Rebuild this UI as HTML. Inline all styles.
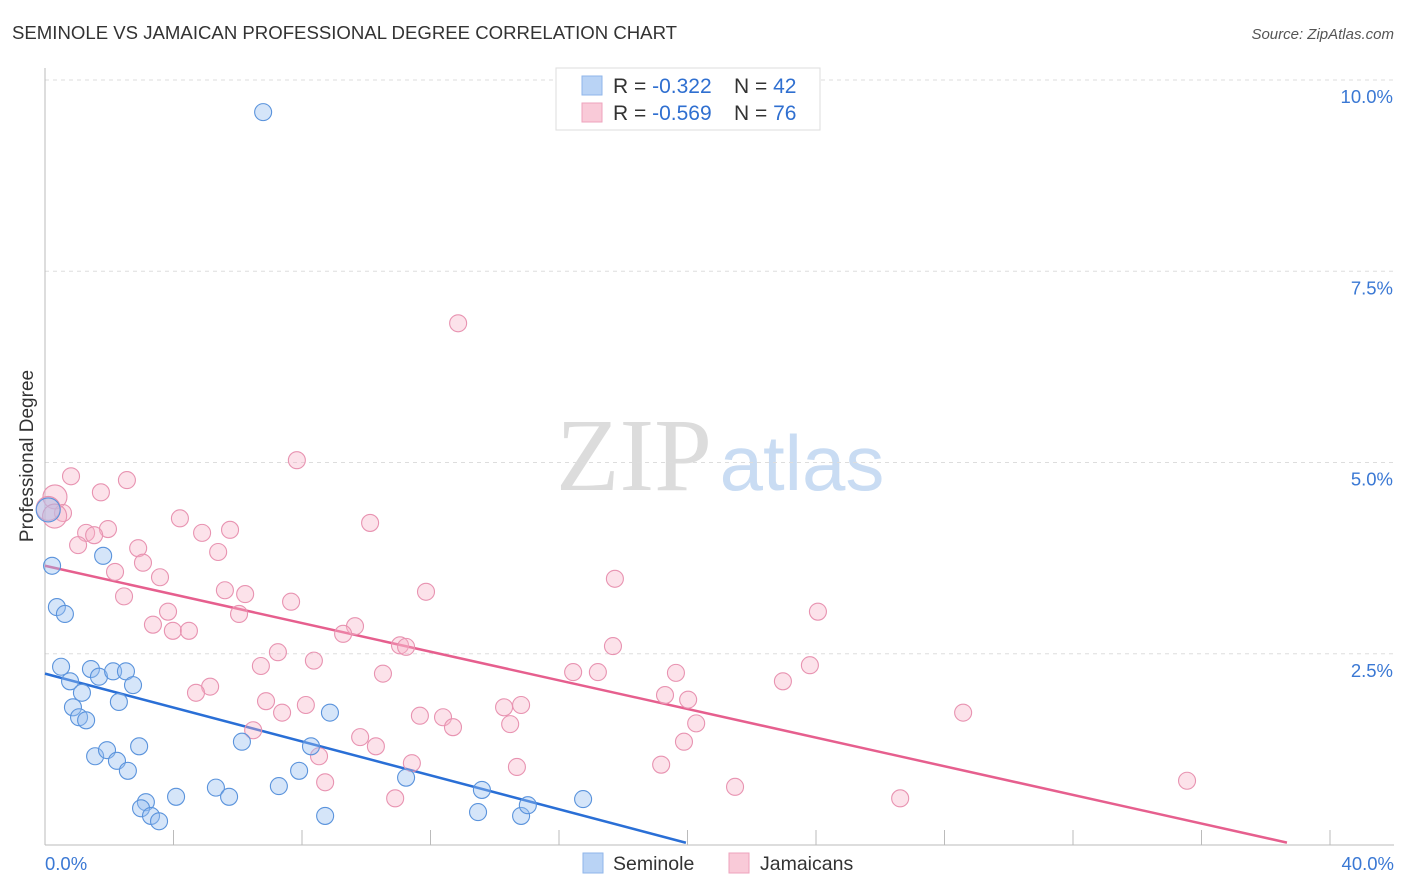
<!DOCTYPE html>
<html><head><meta charset="utf-8"><style>
body{margin:0;background:#fff;font-family:"Liberation Sans",sans-serif;}
svg{display:block}
</style></head><body>
<svg id="chart" width="1406" height="892" viewBox="0 0 1406 892" xmlns="http://www.w3.org/2000/svg">
<text x="12" y="39" font-size="18.6" fill="#333">SEMINOLE VS JAMAICAN PROFESSIONAL DEGREE CORRELATION CHART</text>
<text x="1394" y="39" font-size="15" font-style="italic" fill="#555" text-anchor="end">Source: ZipAtlas.com</text>
<text transform="translate(33,456) rotate(-90)" font-size="19" fill="#333" text-anchor="middle">Professional Degree</text>
<g>
<text x="634" y="490" font-size="104" font-family="Liberation Serif,serif" fill="#dcdcdc" text-anchor="middle">ZIP</text>
<text x="802" y="490" font-size="78" fill="#c9dcf3" text-anchor="middle">atlas</text>
</g>
<g id="grid"></g>
<g id="axes"></g>
<g id="lines"></g>
<g id="points"></g>
<g>
<rect x="556" y="68" width="264" height="62" fill="#fff" stroke="#ddd"/>
<rect x="582" y="76" width="20" height="19" fill="#b9d3f5" stroke="#8fb6ea"/>
<rect x="582" y="103" width="20" height="19" fill="#f9cad8" stroke="#eea3bd"/>
<text x="613" y="93" font-size="21" fill="#333">R = <tspan fill="#2f6fd0">-0.322</tspan><tspan x="734">N = </tspan><tspan fill="#2f6fd0">42</tspan></text>
<text x="613" y="120" font-size="21" fill="#333">R = <tspan fill="#2f6fd0">-0.569</tspan><tspan x="734">N = </tspan><tspan fill="#2f6fd0">76</tspan></text>
</g>
<g>
<rect x="583" y="853" width="20" height="20" fill="#b9d3f5" stroke="#8fb6ea"/>
<text x="613" y="870" font-size="19.5" fill="#333">Seminole</text>
<rect x="729" y="853" width="20" height="20" fill="#f9cad8" stroke="#eea3bd"/>
<text x="760" y="870" font-size="19.5" fill="#333">Jamaicans</text>
</g>
</svg>
<script>
const xTickValues=[0,4,8,12,16,20,24,28,32,36,40];
const yTickValues=[2.5,5,7.5,10];
const yTickLabels=["2.5%","5.0%","7.5%","10.0%"];
const xEndLabels=["0.0%","40.0%"];
const seminoleX=[6.79,0.22,1.81,0.37,0.62,0.50,0.78,1.15,1.43,1.68,2.12,2.52,2.74,2.30,0.87,1.06,1.28,2.93,1.56,1.93,2.24,2.58,6.13,8.87,8.28,7.91,11.24,13.60,5.32,5.73,7.28,4.08,3.14,2.99,3.30,3.55,8.72,13.48,14.82,15.03,16.75,0.10];
const seminoleY=[9.58,3.65,3.78,3.11,3.02,2.33,2.14,1.99,2.30,2.20,2.27,2.27,2.09,1.87,1.80,1.67,1.63,1.29,1.16,1.24,1.10,0.97,1.35,1.73,1.29,0.97,0.88,0.72,0.75,0.63,0.77,0.63,0.56,0.48,0.38,0.31,0.38,0.43,0.38,0.52,0.60,4.38];
const jamX=[12.86,7.84,0.81,2.55,1.74,0.31,0.56,4.20,10.12,5.76,4.89,1.28,1.96,1.53,1.03,2.90,5.39,3.05,2.18,3.58,17.74,5.60,6.23,11.86,2.46,7.66,3.83,6.04,24.06,3.36,3.98,4.48,9.65,9.28,11.05,11.24,17.68,7.25,8.37,23.81,6.72,10.52,16.44,17.21,19.64,5.14,4.70,22.97,19.30,20.02,6.88,8.12,7.38,11.67,12.39,14.29,14.82,28.58,20.27,12.70,14.48,6.48,9.81,10.30,8.53,19.89,11.42,14.69,19.18,8.72,21.48,35.55,10.90,26.62,0.10,0.30];
const jamY=[6.82,5.03,4.82,4.77,4.61,4.55,4.34,4.27,4.21,4.12,4.08,4.08,4.13,4.05,3.92,3.88,3.83,3.69,3.57,3.50,3.48,3.33,3.28,3.31,3.25,3.18,3.05,3.02,3.05,2.88,2.80,2.80,2.86,2.76,2.61,2.59,2.60,2.52,2.41,2.35,2.34,2.24,2.26,2.26,2.25,2.07,1.99,2.14,1.96,1.90,1.88,1.83,1.73,1.69,1.67,1.80,1.83,1.73,1.59,1.54,1.58,1.50,1.41,1.29,1.16,1.35,1.07,1.02,1.05,0.82,0.76,0.84,0.61,0.61,4.40,4.30];
const seminoleTrend=[2.24,-0.1108]; // intercept, slope
const jamTrend=[3.65,-0.0936];
const seminoleTrendEnd=19.95, jamTrendEnd=38.66;

const NS="http://www.w3.org/2000/svg";
const X=v=>45+v/40*1285;
const Y=v=>845-v/10*765;
function mk(tag,attrs,parent){const e=document.createElementNS(NS,tag);for(const k in attrs)e.setAttribute(k,attrs[k]);parent.appendChild(e);return e;}
const grid=document.getElementById('grid'),axes=document.getElementById('axes'),lines=document.getElementById('lines'),pts=document.getElementById('points');
yTickValues.forEach((v,i)=>{
  const g=mk('line',{x1:45,x2:1394,y1:Y(v),y2:Y(v),stroke:'#ddd','stroke-dasharray':'4,4'},grid);
  
  
  const t=mk('text',{x:1393,y:Y(v)+23,'font-size':18.5,fill:'#3a78d4','text-anchor':'end'},axes);
  t.textContent=yTickLabels[i];
  
  
});
const ax=mk('line',{x1:45,x2:45,y1:68,y2:845,stroke:'#bbb'},axes);


const bx=mk('line',{x1:45,x2:1394,y1:845,y2:845,stroke:'#bbb'},axes);


xTickValues.forEach(v=>{
  const t=mk('line',{x1:X(v),x2:X(v),y1:830,y2:845,stroke:'#bbb'},axes);
  
  
});
[[0,'start',45],[1,'end',1394]].forEach(([i,a,x])=>{
  const t=mk('text',{x:x,y:870,'font-size':18.5,fill:'#3a78d4','text-anchor':a},axes);
  t.textContent=xEndLabels[i];
  
  
});
function dots(xs,ys,fill,stroke,name){
  xs.forEach((x,i)=>{
    const big=(x<0.35&&ys[i]>4.2);
    const c=mk('circle',{cx:X(x),cy:Y(ys[i]),r:big?12:8.5,fill:fill,stroke:stroke,'stroke-width':1.1},pts);
    
    
  });
}
dots(jamX,jamY,'rgba(246,178,200,0.38)','#e893b1','jamaican-point');
dots(seminoleX,seminoleY,'rgba(150,190,240,0.4)','#5a93dc','seminole-point');
function trend(p,end,color,name){
  const l=mk('line',{x1:X(0),y1:Y(p[0]),x2:X(end),y2:Y(p[0]+p[1]*end),stroke:color,'stroke-width':2.5},lines);
  
  
}
trend(seminoleTrend,seminoleTrendEnd,'#2a6fd6','seminole-trend-line');
trend(jamTrend,jamTrendEnd,'#e65f8e','jamaican-trend-line');
</script>
</body></html>
